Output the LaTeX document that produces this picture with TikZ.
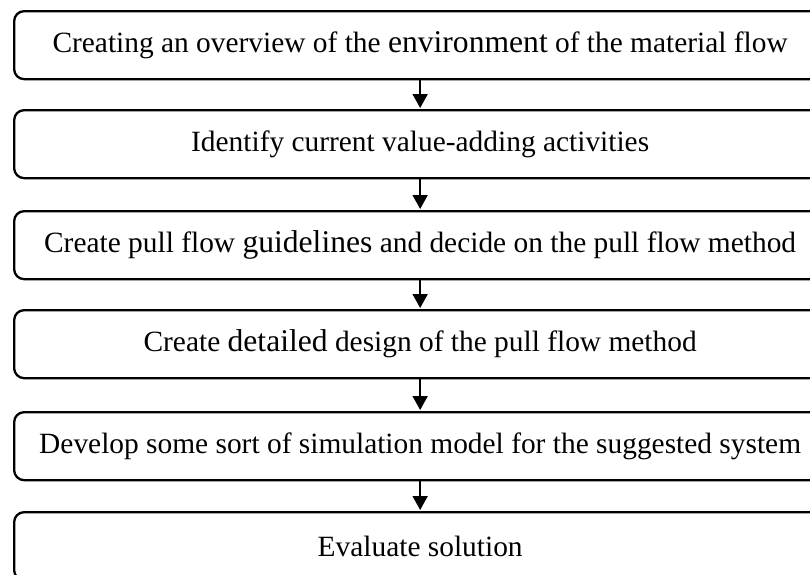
\documentclass[tikz,border=0pt]{standalone}
\usepackage{fontspec}
\setmainfont{Liberation Serif}
\usetikzlibrary{arrows.meta}
\begin{document}
\begin{tikzpicture}[x=1pt,y=-1pt,
  stepbox/.style={draw=black, line width=2.3pt, rounded corners=10pt,
    minimum width=812pt, minimum height=68pt, inner sep=0pt,
    font=\fontsize{29.4}{34}\selectfont, anchor=north west},
  flow/.style={draw=black, line width=1.8pt,
    -{Triangle[width=15pt,length=14pt]}, shorten >=1pt}]
\useasboundingbox (0,0) rectangle (810,574);
\clip (0,0) rectangle (810,574);
\newcommand{\bigw}[1]{{\fontsize{31.6}{34}\selectfont #1}}
\node[stepbox] (s1) at (13,10)  {Creating an overview of the \bigw{environment} of the material flow};
\node[stepbox] (s2) at (13,109) {Identify current value-adding activities};
\node[stepbox] (s3) at (13,210) {Create pull flow \bigw{guidelines} and decide on the pull flow method};
\node[stepbox] (s4) at (13,309) {Create \bigw{detailed} design of the pull flow method};
\node[stepbox] (s5) at (13,411) {Develop some sort of simulation model for the suggested system};
\node[stepbox] (s6) at (13,511) {Evaluate solution};
\foreach \a/\b in {s1/s2,s2/s3,s3/s4,s4/s5,s5/s6}
  \draw[flow] (\a.south) -- (\b.north);
\end{tikzpicture}
\end{document}
